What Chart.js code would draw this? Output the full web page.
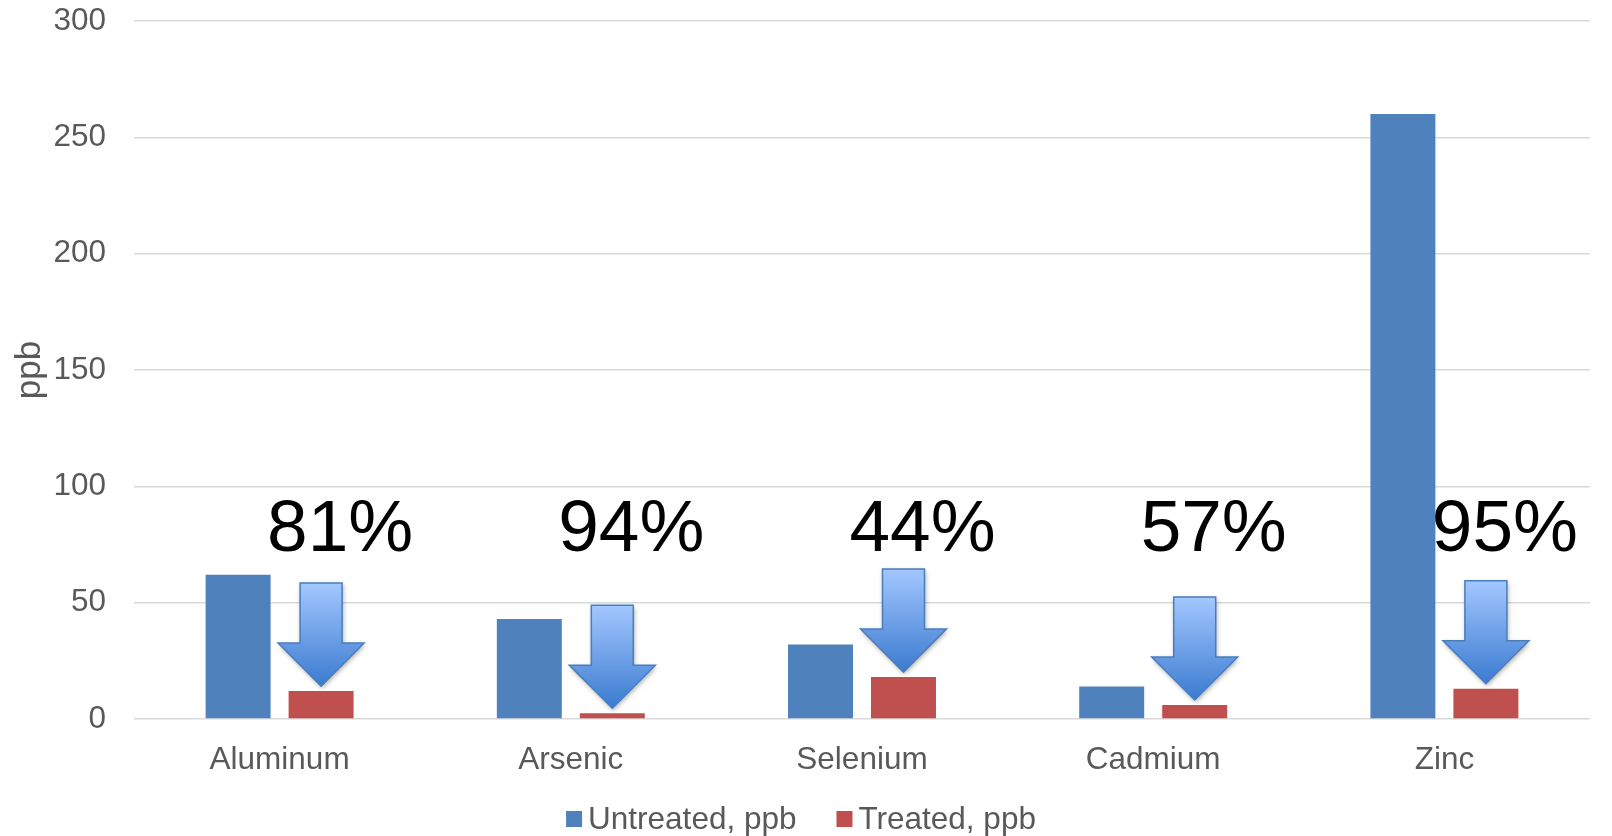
<!DOCTYPE html>
<html><head><meta charset="utf-8">
<script src="https://cdn.jsdelivr.net/npm/chart.js@4.4.1/dist/chart.umd.min.js"></script>
<style>html,body{margin:0;padding:0;background:#fff;} #wrap{width:1612px;height:836px;}</style>
</head><body><div id="wrap"><canvas id="c" width="1612" height="836"></canvas></div>
<script>
const categories = ['Aluminum', 'Arsenic', 'Selenium', 'Cadmium', 'Zinc'];
const untreated = [62, 43, 32, 14, 260];
const treated = [12, 2.5, 18, 6, 13];
const reductionLabels = ['81%', '94%', '44%', '57%', '95%'];
const yTicks = [0, 50, 100, 150, 200, 250, 300];
const seriesNames = ['Untreated, ppb', 'Treated, ppb'];
const seriesColors = ['#4F81BD', '#C0504D'];

const FONT = "'Liberation Sans', Arial, sans-serif";
const TXT = '#595959';

function drawArrow(ctx, tipX, tipY) {
  const H = 103, headH = 43, headW = 86, shaftW = 42;
  const top = tipY - H, neck = tipY - headH;
  ctx.save();
  const g = ctx.createLinearGradient(0, top, 0, tipY);
  g.addColorStop(0, '#a3c7ff');
  g.addColorStop(1, '#3b7bd0');
  ctx.beginPath();
  ctx.moveTo(tipX - shaftW / 2, top);
  ctx.lineTo(tipX + shaftW / 2, top);
  ctx.lineTo(tipX + shaftW / 2, neck);
  ctx.lineTo(tipX + headW / 2, neck);
  ctx.lineTo(tipX, tipY);
  ctx.lineTo(tipX - headW / 2, neck);
  ctx.lineTo(tipX - shaftW / 2, neck);
  ctx.closePath();
  ctx.shadowColor = 'rgba(0,0,0,0.35)';
  ctx.shadowBlur = 5; ctx.shadowOffsetX = 1; ctx.shadowOffsetY = 2;
  ctx.fillStyle = g; ctx.fill();
  ctx.shadowColor = 'transparent';
  ctx.strokeStyle = '#4a7ebb'; ctx.lineWidth = 1.5; ctx.stroke();
  ctx.restore();
}

const annotPlugin = {
  id: 'annot',
  afterDatasetsDraw(chart) {
    const ctx = chart.ctx;
    const meta = chart.getDatasetMeta(1);
    const yScale = chart.scales.y;
    meta.data.forEach((bar, i) => {
      drawArrow(ctx, bar.x, bar.y - 5);
      ctx.save();
      ctx.font = '73px ' + FONT;
      ctx.fillStyle = '#000';
      ctx.textAlign = 'center';
      ctx.textBaseline = 'alphabetic';
      ctx.fillText(reductionLabels[i], bar.x + 19, yScale.getPixelForValue(72));
      ctx.restore();
    });
  },
  afterDraw(chart) {
    const ctx = chart.ctx;
    ctx.save();
    ctx.font = '31.5px ' + FONT;
    const box = 16, gapBT = 6, gapItems = 40;
    const widths = seriesNames.map(s => ctx.measureText(s).width);
    let total = 0;
    widths.forEach((w, i) => { total += box + gapBT + w + (i ? gapItems : 0); });
    let x = 801 - total / 2;
    const cy = 820;
    ctx.textBaseline = 'middle';
    ctx.textAlign = 'left';
    seriesNames.forEach((s, i) => {
      ctx.fillStyle = seriesColors[i];
      ctx.fillRect(x, cy - box / 2 - 1, box, box);
      x += box + gapBT;
      ctx.fillStyle = TXT;
      ctx.fillText(s, x, cy);
      x += widths[i] + gapItems;
    });
    ctx.restore();
  }
};

new Chart(document.getElementById('c'), {
  type: 'bar',
  data: {
    labels: categories,
    datasets: [
      { label: seriesNames[0], data: untreated, backgroundColor: seriesColors[0], categoryPercentage: 0.57, barPercentage: 0.783 },
      { label: seriesNames[1], data: treated, backgroundColor: seriesColors[1], categoryPercentage: 0.57, barPercentage: 0.783 }
    ]
  },
  options: {
    responsive: false,
    animation: false,
    devicePixelRatio: 1,
    layout: { padding: { left: 0, right: 22, top: 21, bottom: 57 } },
    plugins: { legend: { display: false }, tooltip: { enabled: false } },
    scales: {
      x: {
        grid: { display: false, drawTicks: false },
        border: { display: false },
        ticks: { color: TXT, font: { family: FONT, size: 31.5 }, padding: 22 },
        afterFit(scale) { scale.height = 60; scale.paddingLeft = 0; scale.paddingRight = 0; }
      },
      y: {
        min: 0, max: 300,
        afterBuildTicks(scale) { scale.ticks = yTicks.map(v => ({ value: v })); },
        grid: { color: '#d9d9d9', lineWidth: 1.5, drawTicks: false },
        border: { display: false },
        ticks: { color: TXT, font: { family: FONT, size: 31.5 }, padding: 28 },
        title: { display: true, text: 'ppb', color: TXT, font: { family: FONT, size: 35 }, padding: { top: 9, bottom: 0 } },
        afterFit(scale) { scale.width = 134; scale.paddingTop = 0; scale.paddingBottom = 0; }
      }
    }
  },
  plugins: [annotPlugin]
});
</script>
</body></html>
